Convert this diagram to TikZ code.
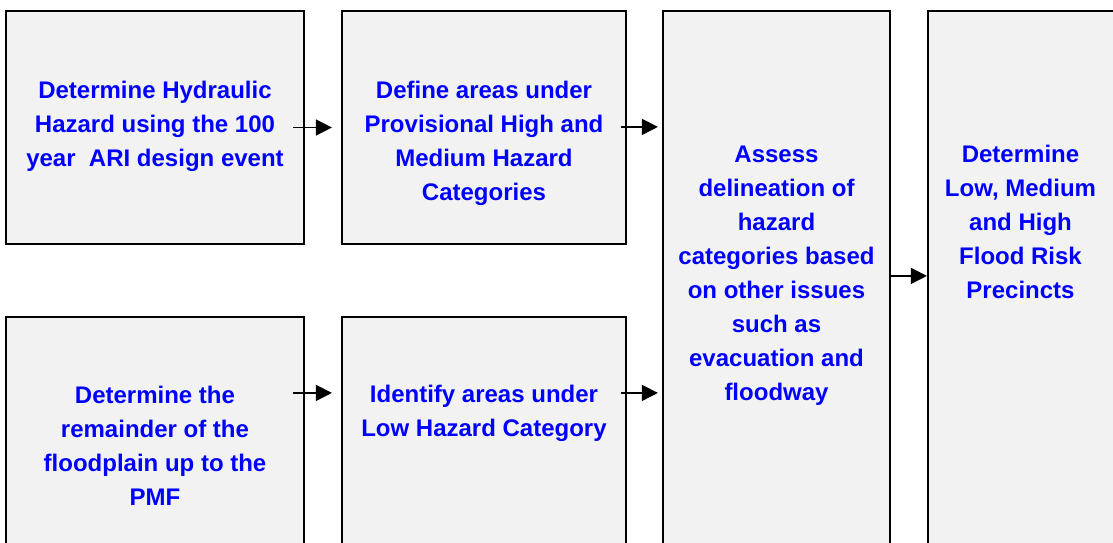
\documentclass[tikz,border=0pt]{standalone}
\usepackage{fontspec}
\setmainfont{Liberation Sans}
\usetikzlibrary{arrows.meta}
\definecolor{boxgray}{HTML}{F2F2F2}
\newcommand\pxu{0.5pt}

\begin{document}
\begin{tikzpicture}[
			x=\pxu, y=-\pxu,
			box/.style={draw=black,fill=boxgray,line width=1.1pt,rectangle,inner sep=0pt},
			txt/.style={draw=none,text=blue,align=center,font=\bfseries\fontsize{12}{17}\selectfont},
			arr/.style={line width=0.75pt,-{Triangle[length=8pt,width=8pt]}}
		]
		\useasboundingbox (0,0) rectangle (1113,542);
		\clip (0,0) rectangle (1113,542);

		\node [box,minimum width=298*\pxu,minimum height=233*\pxu] (b0) at (155,127.5) {};
		\node [box,minimum width=284*\pxu,minimum height=233*\pxu] (b1) at ([shift={(329,0)}]b0) {};
		\node [box,minimum width=298*\pxu,minimum height=292*\pxu] (b3) at ([shift={(0,335.5)}]b0) {};
		\node [box,minimum width=284*\pxu,minimum height=292*\pxu] (b4) at ([shift={(329,0)}]b3) {};
		\node [box,minimum width=227*\pxu,minimum height=598*\pxu] (b2) at (776.5,310) {};
		\node [box,minimum width=231*\pxu,minimum height=598*\pxu] (b5) at ([shift={(267,0)}]b2) {};

		% texts
		\node [txt] (t0) at ([shift={(0,116)}]b0.north) {Determine Hydraulic\\Hazard using the 100\\year\ \ ARI design event};
		\node [txt] (t1) at ([shift={(0,133)}]b1.north) {Define areas under\\Provisional High and\\Medium Hazard\\Categories};
		\node [txt] (t2) at ([shift={(0,266)}]b2.north) {Assess\\delineation of\\hazard\\categories based\\on other issues\\such as\\evacuation and\\floodway};
		\node [txt] (t3) at ([shift={(0,130)}]b3.north) {Determine the\\remainder of the\\floodplain up to the\\PMF};
		\node [txt] (t4) at ([shift={(0,97.5)}]b4.north) {Identify areas under\\Low Hazard Category};
		\node [txt] (t5) at ([shift={(-23,212)}]b5.north) {Determine\\Low, Medium\\and High\\Flood Risk\\Precincts};

		\draw[arr] ([xshift=-12*\pxu]b0.east)--([xshift=-9*\pxu]b1.west);
		\draw[arr] ([shift={(-6,117)}]b1.north east)--([shift={(-4,117)}]b2.north west);
		\draw[arr] ([shift={(-12,77)}]b3.north east)--([shift={(-9,77)}]b4.north west);
		\draw[arr] ([shift={(-6,77)}]b4.north east)--([shift={(-4,383)}]b2.north west);
		\draw[arr] ([shift={(-2,266)}]b2.north east)--([shift={(0,266)}]b5.north west);
	\end{tikzpicture}
\end{document}
